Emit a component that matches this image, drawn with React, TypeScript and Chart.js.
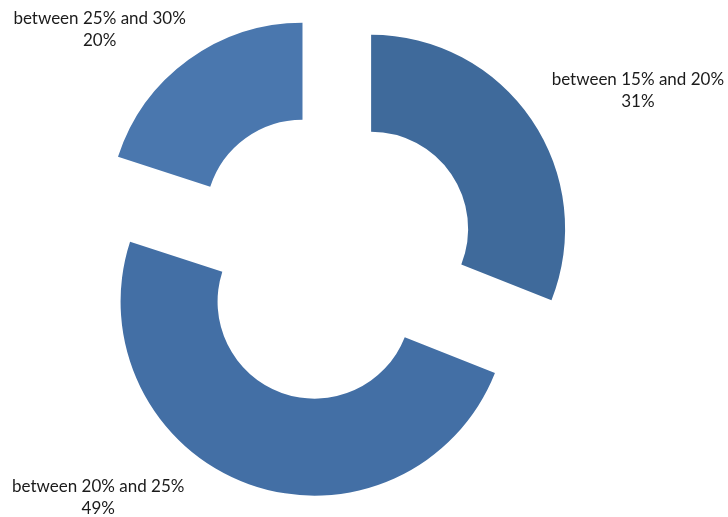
import React, { useEffect, useRef } from "react";
import { Chart, registerables } from "chart.js";

Chart.register(...registerables);

// ---- data ----
const categories: string[] = ["between 15% and 20%", "between 20% and 25%", "between 25% and 30%"];
const shares: number[] = [31, 49, 20];
const sliceColors: string[] = ["#3F6A9B", "#436FA5", "#4A77AE"];

// label placement (angle clockwise from 12 o'clock in degrees, distance from ring centre in px)
const labelAngles: number[] = [61.7, 223.9, 314.4];
const labelDistances: number[] = [348.5, 335.7, 323.9];

const EXPLODE = 48.5;
const FONT = "17px Lato, 'Open Sans', sans-serif";

const explodePlugin = {
  id: "explodeSlices",
  beforeDatasetDraw(chart: any, args: any) {
    const ctx = chart.ctx;
    args.meta.data.forEach((arc: any) => {
      const mid = (arc.startAngle + arc.endAngle) / 2;
      ctx.save();
      ctx.translate(Math.cos(mid) * EXPLODE, Math.sin(mid) * EXPLODE);
      arc.draw(ctx);
      ctx.restore();
    });
    return false;
  },
};

const labelPlugin = {
  id: "sliceLabels",
  afterDatasetsDraw(chart: any) {
    const ctx = chart.ctx;
    const meta = chart.getDatasetMeta(0);
    const data = chart.data.datasets[0].data as number[];
    const total = data.reduce((a, b) => a + b, 0);
    ctx.save();
    ctx.font = FONT;
    ctx.fillStyle = "#1b1b1b";
    ctx.textAlign = "center";
    ctx.textBaseline = "middle";
    meta.data.forEach((arc: any, i: number) => {
      const a = ((labelAngles[i] - 90) * Math.PI) / 180;
      const x = arc.x + Math.cos(a) * labelDistances[i];
      const y = arc.y + Math.sin(a) * labelDistances[i];
      const pct = Math.round((data[i] / total) * 100) + "%";
      ctx.fillText(chart.data.labels[i], x, y - 11);
      ctx.fillText(pct, x, y + 11);
    });
    ctx.restore();
  },
};

export default function App() {
  const ref = useRef<HTMLCanvasElement | null>(null);
  useEffect(() => {
    if (!ref.current) return;
    const chart = new Chart(ref.current, {
      type: "doughnut",
      data: {
        labels: categories,
        datasets: [
          {
            data: shares,
            backgroundColor: sliceColors,
            borderWidth: 0,
          },
        ],
      },
      options: {
        animation: false,
        responsive: false,
        devicePixelRatio: 1,
        radius: 194,
        cutout: "50%",
        layout: { padding: { left: 0, right: 66, top: 0, bottom: 5 } },
        plugins: {
          legend: { display: false },
          tooltip: { enabled: false },
        },
      } as any,
      plugins: [explodePlugin, labelPlugin],
    });
    return () => chart.destroy();
  }, []);
  return (
    <div style={{ position: "fixed", left: 0, top: 0, width: 728, height: 517, background: "#ffffff" }}>
      <canvas ref={ref} width={728} height={517} />
    </div>
  );
}
